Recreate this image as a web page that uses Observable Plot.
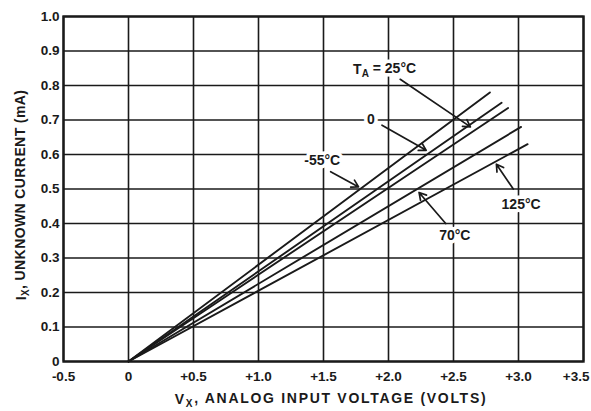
<!DOCTYPE html>
<html>
<head>
<meta charset="utf-8">
<script src="https://cdn.jsdelivr.net/npm/d3@7"></script>
<script src="https://cdn.jsdelivr.net/npm/@observablehq/plot@0.6"></script>
<style>
  html, body { margin: 0; padding: 0; background: #fff; }
  #chart svg { display: block; }
</style>
</head>
<body>
<div id="chart"></div>
<script>
// Axis ticks
const xTicks = [-0.5, 0, 0.5, 1.0, 1.5, 2.0, 2.5, 3.0, 3.5];
const xTickLabels = ["-0.5", "0", "+0.5", "+1.0", "+1.5", "+2.0", "+2.5", "+3.0", "+3.5"];
const yTicks = [0, 0.1, 0.2, 0.3, 0.4, 0.5, 0.6, 0.7, 0.8, 0.9, 1.0];
const yTickLabels = ["0", "0.1", "0.2", "0.3", "0.4", "0.5", "0.6", "0.7", "0.8", "0.9", "1.0"];

// Series: straight lines from the origin to their end points
const seriesNames = ["-55°C", "0°C", "25°C", "70°C", "125°C"];
const startV = [0, 0, 0, 0, 0];
const startI = [0, 0, 0, 0, 0];
const endV = [2.78, 2.87, 2.92, 3.02, 3.07];
const endI = [0.78, 0.75, 0.735, 0.68, 0.63];

// Annotations
const noteText = ["TA = 25°C", "0", "-55°C", "70°C", "125°C"];
const noteX = [1.97, 1.865, 1.49, 2.51, 3.02];
const noteY = [0.847, 0.70, 0.583, 0.366, 0.454];
const arrowX1 = [2.09, 1.95, 1.555, 2.44, 2.96];
const arrowY1 = [0.818, 0.685, 0.55, 0.40, 0.50];
const arrowX2 = [2.63, 2.29, 1.77, 2.235, 2.83];
const arrowY2 = [0.68, 0.612, 0.506, 0.49, 0.572];

const lines = [];
seriesNames.forEach((s, i) => {
  lines.push({series: s, v: startV[i], i: startI[i]});
  lines.push({series: s, v: endV[i], i: endI[i]});
});
const notes = noteText.map((t, i) => ({t, x: noteX[i], y: noteY[i]}));
const arrows = arrowX1.map((_, i) => ({x1: arrowX1[i], y1: arrowY1[i], x2: arrowX2[i], y2: arrowY2[i]}));

const FONT = "'Liberation Sans', Arial, sans-serif";

const plot = Plot.plot({
  width: 591,
  height: 411,
  marginLeft: 63,
  marginRight: 8,
  marginTop: 16,
  marginBottom: 50,
  style: {fontFamily: FONT, fontSize: "13.5px", fontWeight: "bold", background: "white", color: "#1a1a1a"},
  x: {domain: [-0.5, 3.5], ticks: xTicks, tickFormat: d => xTickLabels[xTicks.indexOf(d)], tickSize: 0, tickPadding: 10, label: null},
  y: {domain: [0, 1], ticks: yTicks, tickFormat: d => yTickLabels[yTicks.indexOf(d)], tickSize: 0, tickPadding: 4, label: null},
  marks: [
    Plot.ruleX(xTicks, {stroke: "#1a1a1a", strokeWidth: 1.6}),
    Plot.ruleY(yTicks, {stroke: "#1a1a1a", strokeWidth: 1.6}),
    Plot.frame({stroke: "#1a1a1a", strokeWidth: 2.4}),
    Plot.line(lines, {x: "v", y: "i", z: "series", stroke: "#1a1a1a", strokeWidth: 1.9}),
    Plot.text(notes, {x: "x", y: "y", text: "t", fontSize: 14, fontWeight: "bold", fill: "#1a1a1a", stroke: "white", strokeWidth: 7, paintOrder: "stroke"}),
    Plot.arrow(arrows, {x1: "x1", y1: "y1", x2: "x2", y2: "y2", stroke: "#1a1a1a", strokeWidth: 1.7, headLength: 7, bend: false})
  ]
});

document.getElementById("chart").appendChild(plot);

const svg = d3.select(plot);
// subscript A in the T_A annotation
svg.selectAll("text").filter(function() { return this.textContent === "TA = 25°C"; })
  .each(function() {
    const t = d3.select(this);
    t.text(null);
    t.append("tspan").text("T");
    t.append("tspan").attr("dy", "0.3em").attr("font-size", "10px").text("A");
    t.append("tspan").attr("dy", "-0.3em").text(" = 25°C");
  });
// keep the last x tick label inside the picture
svg.selectAll("text").filter(function() { return this.textContent === "+3.5"; })
  .attr("text-anchor", "end").attr("dx", "6");

const xl = svg.append("text")
  .attr("x", 331).attr("y", 404)
  .attr("text-anchor", "middle")
  .attr("font-family", FONT).attr("font-size", "14px").attr("font-weight", "bold").attr("fill", "#1a1a1a")
  .attr("letter-spacing", "1.7px");
xl.append("tspan").text("V");
xl.append("tspan").attr("dy", "0.3em").attr("font-size", "10px").text("X");
xl.append("tspan").attr("dy", "-0.3em").text(", ANALOG INPUT VOLTAGE (VOLTS)");

const yl = svg.append("text")
  .attr("transform", "translate(26,195) rotate(-90)")
  .attr("text-anchor", "middle")
  .attr("font-family", FONT).attr("font-size", "14px").attr("font-weight", "bold").attr("fill", "#1a1a1a")
  .attr("letter-spacing", "0.4px");
yl.append("tspan").text("I");
yl.append("tspan").attr("dy", "0.3em").attr("font-size", "10px").text("X");
yl.append("tspan").attr("dy", "-0.3em").text(", UNKNOWN CURRENT (mA)");
</script>
</body>
</html>
